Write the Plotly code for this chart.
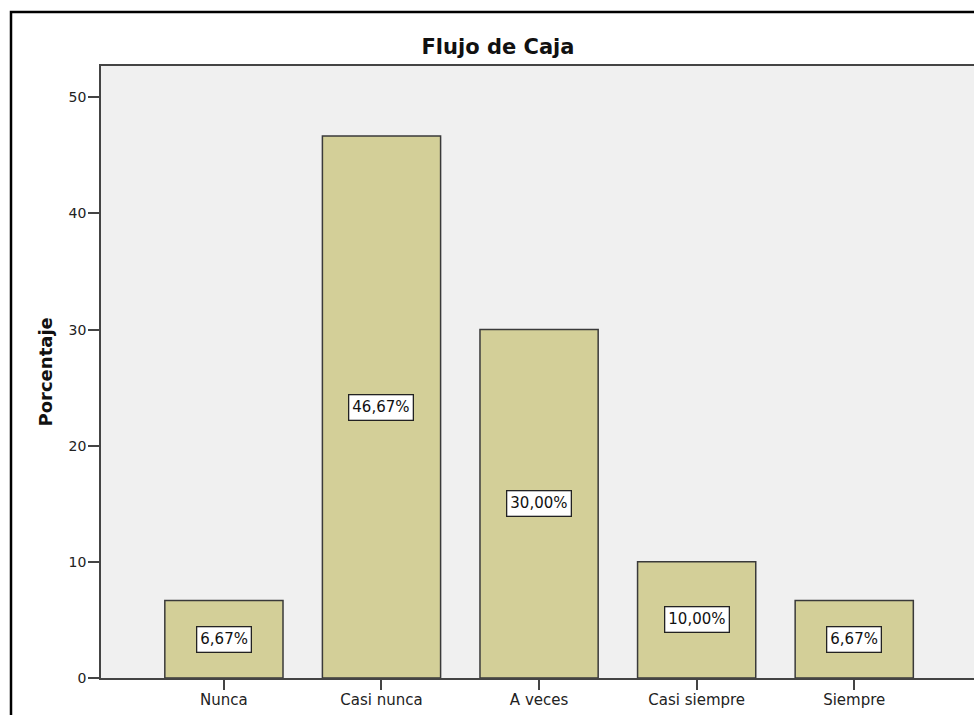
import plotly.graph_objects as go

# Frequency table for "Flujo de Caja"
categorias = ["Nunca", "Casi nunca", "A veces", "Casi siempre", "Siempre"]
porcentajes = [6.67, 46.67, 30.00, 10.00, 6.67]
y_ticks = [0, 10, 20, 30, 40, 50]

W, H = 974, 715
ML, MR, MT, MB = 101, 0, 66, 37
plot_w = W - ML - MR
plot_h = H - MT - MB

FONT = "DejaVu Sans, Verdana, sans-serif"


def px_x(p):
    """Pixel column -> paper x (relative to the plot area)."""
    return (p - ML) / plot_w


def px_y(p):
    """Pixel row -> paper y (relative to the plot area)."""
    return (H - MB - p) / plot_h


fig = go.Figure()
fig.add_trace(go.Bar(
    x=list(range(len(categorias))),
    y=porcentajes,
    width=0.75,
    marker=dict(color="#D3CF98", line=dict(color="#3A3A3A", width=1.5)),
    hoverinfo="skip",
))

# Value labels in white boxes at half the bar height
for i, v in enumerate(porcentajes):
    fig.add_annotation(
        x=i, y=v / 2, xref="x", yref="y",
        text=f"{v:.2f}".replace(".", ",") + "%",
        showarrow=False,
        font=dict(family=FONT, size=15, color="#111"),
        bgcolor="white", bordercolor="#222", borderwidth=1.3, borderpad=3,
    )

# Y axis title
fig.add_annotation(
    x=px_x(44.5), y=0.5, xref="paper", yref="paper",
    text="<b>Porcentaje</b>", textangle=-90, showarrow=False,
    xanchor="center", yanchor="middle",
    font=dict(family=FONT, size=18, color="#111"),
)

# Outer frame around the chart
fig.add_shape(
    type="path", xref="paper", yref="paper",
    path=f"M {px_x(11)} {px_y(730)} L {px_x(11)} {px_y(12)} L {px_x(990)} {px_y(12)}",
    line=dict(color="black", width=2.5),
)

fig.update_layout(
    width=W, height=H,
    margin=dict(l=ML, r=MR, t=MT, b=MB),
    paper_bgcolor="white",
    plot_bgcolor="#F0F0F0",
    showlegend=False,
    title=dict(
        text="<b>Flujo de Caja</b>",
        x=498 / W, xref="container", xanchor="center",
        y=1 - 47 / H, yref="container", yanchor="middle",
        font=dict(family=FONT, size=21, color="#111"),
    ),
    xaxis=dict(
        tickmode="array",
        tickvals=list(range(len(categorias))),
        ticktext=categorias,
        range=[-0.78, 4.76],
        showgrid=False, zeroline=False,
        showline=True, linecolor="#444", linewidth=1.5, mirror=True,
        ticks="outside", ticklen=10, tickwidth=1.5, tickcolor="#444",
        ticklabelstandoff=-3,
        tickfont=dict(family=FONT, size=15, color="#222"),
        fixedrange=True,
    ),
    yaxis=dict(
        tickmode="array", tickvals=y_ticks,
        range=[0, 52.7],
        showgrid=False, zeroline=False,
        showline=True, linecolor="#444", linewidth=1.5,
        ticks="outside", ticklen=11, tickwidth=1.5, tickcolor="#444",
        ticklabelstandoff=-1,
        tickfont=dict(family=FONT, size=14, color="#222"),
        fixedrange=True,
    ),
)

fig.write_html("out.html", config={"displayModeBar": False})
